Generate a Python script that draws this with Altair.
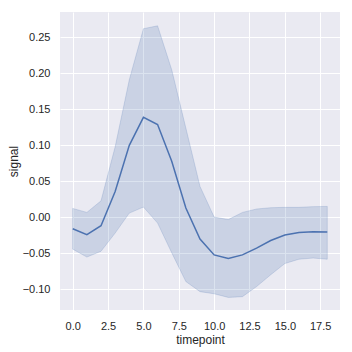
import altair as alt
import pandas as pd

timepoint = list(range(19))
signal_mean = [-0.0157, -0.024, -0.0115, 0.036, 0.100, 0.139, 0.129, 0.078, 0.013,
               -0.030, -0.052, -0.057, -0.052, -0.0425, -0.032, -0.0245, -0.021, -0.020, -0.0203]
ci_low = [-0.044, -0.055, -0.047, -0.0217, 0.006, 0.0144, -0.0078, -0.049, -0.089,
          -0.103, -0.106, -0.111, -0.110, -0.096, -0.0796, -0.064, -0.058, -0.0564, -0.058]
ci_high = [0.0125, 0.007, 0.023, 0.098, 0.191, 0.262, 0.266, 0.205, 0.124,
           0.043, 0.0005, -0.003, 0.007, 0.0117, 0.0135, 0.014, 0.014, 0.015, 0.0153]

x_ticks = [0, 2.5, 5, 7.5, 10, 12.5, 15, 17.5]
y_ticks = [-0.10, -0.05, 0.0, 0.05, 0.10, 0.15, 0.20, 0.25]

df = pd.DataFrame({"timepoint": timepoint, "signal": signal_mean,
                   "low": ci_low, "high": ci_high})

color = "#4C72B0"
xscale = alt.Scale(domain=[-0.9, 18.9], nice=False, zero=False)
yscale = alt.Scale(domain=[-0.1285, 0.2852], nice=False, zero=False)

xaxis = alt.Axis(values=x_ticks, format=".1f", title="timepoint", labelOverlap=False)
yaxis = alt.Axis(values=y_ticks, format=".2f", title="signal", labelOverlap=False)

base = alt.Chart(df)
band = base.mark_area(color=color, fillOpacity=0.2, stroke=color,
                      strokeOpacity=0.2, strokeWidth=1).encode(
    x=alt.X("timepoint:Q", scale=xscale, axis=xaxis),
    y=alt.Y("low:Q", scale=yscale, axis=yaxis),
    y2="high:Q",
)
line = base.mark_line(color=color, strokeWidth=1.5).encode(
    x=alt.X("timepoint:Q", scale=xscale, axis=xaxis),
    y=alt.Y("signal:Q", scale=yscale, axis=yaxis),
)

chart = (band + line).properties(
    width=280, height=298,
    autosize=alt.AutoSizeParams(type="none"),
    padding={"left": 52, "top": 4, "right": 4, "bottom": 42},
).configure_view(
    fill="#EAEAF2", stroke=None
).configure_axis(
    grid=True, gridColor="white", gridWidth=1, gridOpacity=1,
    domain=False, ticks=False, tickSize=0,
    labelFont="Liberation Sans", labelFontSize=11, labelColor="#262626",
    titleFont="Liberation Sans", titleFontSize=12, titleColor="#262626",
    titleFontWeight="normal", labelPadding=10,
).configure_axisX(
    titlePadding=3
).configure_axisY(
    titlePadding=2
)

chart.save("out.html", embed_options={"renderer": "svg", "actions": False})
